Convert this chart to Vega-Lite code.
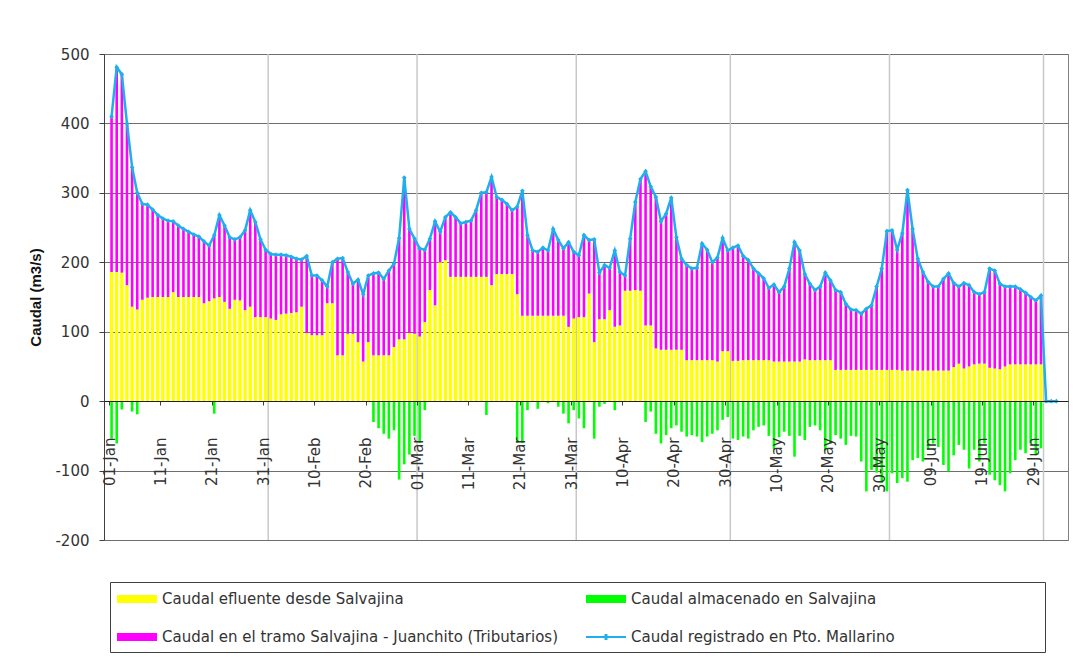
{
"$schema": "https://vega.github.io/schema/vega-lite/v6.json",
"width": 964, "height": 486,
"autosize": {"type": "none"},
"padding": {"left": 104, "top": 54, "right": 18, "bottom": 128},
"background": "white",
"config": {"font": "DejaVu Sans", "view": {"stroke": "#808080", "strokeWidth": 1}},
"datasets": {
"meses": [{"fecha":"2004-02-01T00:00"},{"fecha":"2004-03-01T00:00"},{"fecha":"2004-04-01T00:00"},{"fecha":"2004-05-01T00:00"},{"fecha":"2004-06-01T00:00"},{"fecha":"2004-07-01T00:00"}],
"diario": [
{"fecha":"2004-01-01T12:00","total":410,"efluente":186,"almacenado":-54},
{"fecha":"2004-01-02T12:00","total":481,"efluente":186,"almacenado":-61},
{"fecha":"2004-01-03T12:00","total":471,"efluente":185,"almacenado":-12},
{"fecha":"2004-01-04T12:00","total":400,"efluente":167,"almacenado":0},
{"fecha":"2004-01-05T12:00","total":337,"efluente":136,"almacenado":-15},
{"fecha":"2004-01-06T12:00","total":300,"efluente":132,"almacenado":-19},
{"fecha":"2004-01-07T12:00","total":284,"efluente":146,"almacenado":0},
{"fecha":"2004-01-08T12:00","total":283,"efluente":149,"almacenado":0},
{"fecha":"2004-01-09T12:00","total":276,"efluente":150,"almacenado":0},
{"fecha":"2004-01-10T12:00","total":268,"efluente":150,"almacenado":0},
{"fecha":"2004-01-11T12:00","total":263,"efluente":150,"almacenado":0},
{"fecha":"2004-01-12T12:00","total":260,"efluente":150,"almacenado":0},
{"fecha":"2004-01-13T12:00","total":259,"efluente":157,"almacenado":0},
{"fecha":"2004-01-14T12:00","total":253,"efluente":150,"almacenado":0},
{"fecha":"2004-01-15T12:00","total":248,"efluente":150,"almacenado":0},
{"fecha":"2004-01-16T12:00","total":244,"efluente":150,"almacenado":0},
{"fecha":"2004-01-17T12:00","total":240,"efluente":150,"almacenado":0},
{"fecha":"2004-01-18T12:00","total":237,"efluente":150,"almacenado":0},
{"fecha":"2004-01-19T12:00","total":230,"efluente":141,"almacenado":0},
{"fecha":"2004-01-20T12:00","total":224,"efluente":144,"almacenado":0},
{"fecha":"2004-01-21T12:00","total":239,"efluente":148,"almacenado":-18},
{"fecha":"2004-01-22T12:00","total":268,"efluente":150,"almacenado":0},
{"fecha":"2004-01-23T12:00","total":253,"efluente":143,"almacenado":0},
{"fecha":"2004-01-24T12:00","total":236,"efluente":133,"almacenado":0},
{"fecha":"2004-01-25T12:00","total":233,"efluente":146,"almacenado":0},
{"fecha":"2004-01-26T12:00","total":236,"efluente":145,"almacenado":0},
{"fecha":"2004-01-27T12:00","total":246,"efluente":131,"almacenado":0},
{"fecha":"2004-01-28T12:00","total":275,"efluente":136,"almacenado":0},
{"fecha":"2004-01-29T12:00","total":258,"efluente":121,"almacenado":0},
{"fecha":"2004-01-30T12:00","total":233,"efluente":121,"almacenado":0},
{"fecha":"2004-01-31T12:00","total":218,"efluente":121,"almacenado":0},
{"fecha":"2004-02-01T12:00","total":212,"efluente":119,"almacenado":0},
{"fecha":"2004-02-02T12:00","total":211,"efluente":117,"almacenado":0},
{"fecha":"2004-02-03T12:00","total":211,"efluente":125,"almacenado":0},
{"fecha":"2004-02-04T12:00","total":210,"efluente":126,"almacenado":0},
{"fecha":"2004-02-05T12:00","total":208,"efluente":127,"almacenado":0},
{"fecha":"2004-02-06T12:00","total":205,"efluente":128,"almacenado":0},
{"fecha":"2004-02-07T12:00","total":204,"efluente":136,"almacenado":0},
{"fecha":"2004-02-08T12:00","total":209,"efluente":98,"almacenado":0},
{"fecha":"2004-02-09T12:00","total":181,"efluente":95,"almacenado":0},
{"fecha":"2004-02-10T12:00","total":181,"efluente":95,"almacenado":0},
{"fecha":"2004-02-11T12:00","total":174,"efluente":95,"almacenado":0},
{"fecha":"2004-02-12T12:00","total":165,"efluente":141,"almacenado":0},
{"fecha":"2004-02-13T12:00","total":200,"efluente":141,"almacenado":0},
{"fecha":"2004-02-14T12:00","total":205,"efluente":66,"almacenado":0},
{"fecha":"2004-02-15T12:00","total":206,"efluente":66,"almacenado":0},
{"fecha":"2004-02-16T12:00","total":186,"efluente":97,"almacenado":0},
{"fecha":"2004-02-17T12:00","total":169,"efluente":97,"almacenado":0},
{"fecha":"2004-02-18T12:00","total":175,"efluente":85,"almacenado":0},
{"fecha":"2004-02-19T12:00","total":154,"efluente":57,"almacenado":0},
{"fecha":"2004-02-20T12:00","total":181,"efluente":85,"almacenado":0},
{"fecha":"2004-02-21T12:00","total":184,"efluente":66,"almacenado":-30},
{"fecha":"2004-02-22T12:00","total":185,"efluente":66,"almacenado":-39},
{"fecha":"2004-02-23T12:00","total":176,"efluente":66,"almacenado":-47},
{"fecha":"2004-02-24T12:00","total":188,"efluente":66,"almacenado":-54},
{"fecha":"2004-02-25T12:00","total":198,"efluente":78,"almacenado":-42},
{"fecha":"2004-02-26T12:00","total":235,"efluente":89,"almacenado":-113},
{"fecha":"2004-02-27T12:00","total":322,"efluente":89,"almacenado":-91},
{"fecha":"2004-02-28T12:00","total":248,"efluente":98,"almacenado":-77},
{"fecha":"2004-02-29T12:00","total":234,"efluente":97,"almacenado":-50},
{"fecha":"2004-03-01T12:00","total":220,"efluente":93,"almacenado":-60},
{"fecha":"2004-03-02T12:00","total":218,"efluente":114,"almacenado":-13},
{"fecha":"2004-03-03T12:00","total":234,"efluente":160,"almacenado":0},
{"fecha":"2004-03-04T12:00","total":259,"efluente":138,"almacenado":0},
{"fecha":"2004-03-05T12:00","total":244,"efluente":200,"almacenado":0},
{"fecha":"2004-03-06T12:00","total":265,"efluente":203,"almacenado":0},
{"fecha":"2004-03-07T12:00","total":272,"efluente":179,"almacenado":0},
{"fecha":"2004-03-08T12:00","total":265,"efluente":179,"almacenado":0},
{"fecha":"2004-03-09T12:00","total":256,"efluente":179,"almacenado":0},
{"fecha":"2004-03-10T12:00","total":258,"efluente":179,"almacenado":0},
{"fecha":"2004-03-11T12:00","total":260,"efluente":179,"almacenado":0},
{"fecha":"2004-03-12T12:00","total":275,"efluente":179,"almacenado":0},
{"fecha":"2004-03-13T12:00","total":300,"efluente":179,"almacenado":0},
{"fecha":"2004-03-14T12:00","total":301,"efluente":179,"almacenado":-20},
{"fecha":"2004-03-15T12:00","total":323,"efluente":167,"almacenado":0},
{"fecha":"2004-03-16T12:00","total":294,"efluente":183,"almacenado":0},
{"fecha":"2004-03-17T12:00","total":290,"efluente":183,"almacenado":0},
{"fecha":"2004-03-18T12:00","total":284,"efluente":183,"almacenado":0},
{"fecha":"2004-03-19T12:00","total":275,"efluente":183,"almacenado":0},
{"fecha":"2004-03-20T12:00","total":280,"efluente":154,"almacenado":-60},
{"fecha":"2004-03-21T12:00","total":303,"efluente":123,"almacenado":-60},
{"fecha":"2004-03-22T12:00","total":239,"efluente":123,"almacenado":-13},
{"fecha":"2004-03-23T12:00","total":217,"efluente":123,"almacenado":0},
{"fecha":"2004-03-24T12:00","total":215,"efluente":123,"almacenado":-11},
{"fecha":"2004-03-25T12:00","total":221,"efluente":123,"almacenado":0},
{"fecha":"2004-03-26T12:00","total":217,"efluente":123,"almacenado":-3},
{"fecha":"2004-03-27T12:00","total":248,"efluente":123,"almacenado":0},
{"fecha":"2004-03-28T12:00","total":232,"efluente":123,"almacenado":-8},
{"fecha":"2004-03-29T12:00","total":220,"efluente":123,"almacenado":-18},
{"fecha":"2004-03-30T12:00","total":229,"efluente":107,"almacenado":-32},
{"fecha":"2004-03-31T12:00","total":215,"efluente":119,"almacenado":-13},
{"fecha":"2004-04-01T12:00","total":210,"efluente":121,"almacenado":-25},
{"fecha":"2004-04-02T12:00","total":239,"efluente":121,"almacenado":-39},
{"fecha":"2004-04-03T12:00","total":232,"efluente":155,"almacenado":0},
{"fecha":"2004-04-04T12:00","total":233,"efluente":85,"almacenado":-54},
{"fecha":"2004-04-05T12:00","total":185,"efluente":118,"almacenado":-8},
{"fecha":"2004-04-06T12:00","total":196,"efluente":118,"almacenado":-4},
{"fecha":"2004-04-07T12:00","total":192,"efluente":131,"almacenado":0},
{"fecha":"2004-04-08T12:00","total":217,"efluente":107,"almacenado":-13},
{"fecha":"2004-04-09T12:00","total":186,"efluente":109,"almacenado":0},
{"fecha":"2004-04-10T12:00","total":181,"efluente":159,"almacenado":0},
{"fecha":"2004-04-11T12:00","total":234,"efluente":159,"almacenado":0},
{"fecha":"2004-04-12T12:00","total":287,"efluente":160,"almacenado":0},
{"fecha":"2004-04-13T12:00","total":320,"efluente":159,"almacenado":0},
{"fecha":"2004-04-14T12:00","total":331,"efluente":109,"almacenado":-30},
{"fecha":"2004-04-15T12:00","total":309,"efluente":109,"almacenado":-15},
{"fecha":"2004-04-16T12:00","total":294,"efluente":76,"almacenado":-47},
{"fecha":"2004-04-17T12:00","total":259,"efluente":74,"almacenado":-61},
{"fecha":"2004-04-18T12:00","total":270,"efluente":74,"almacenado":-49},
{"fecha":"2004-04-19T12:00","total":293,"efluente":74,"almacenado":-39},
{"fecha":"2004-04-20T12:00","total":236,"efluente":74,"almacenado":-35},
{"fecha":"2004-04-21T12:00","total":205,"efluente":74,"almacenado":-44},
{"fecha":"2004-04-22T12:00","total":196,"efluente":59,"almacenado":-51},
{"fecha":"2004-04-23T12:00","total":191,"efluente":59,"almacenado":-49},
{"fecha":"2004-04-24T12:00","total":192,"efluente":59,"almacenado":-51},
{"fecha":"2004-04-25T12:00","total":227,"efluente":59,"almacenado":-59},
{"fecha":"2004-04-26T12:00","total":218,"efluente":59,"almacenado":-51},
{"fecha":"2004-04-27T12:00","total":200,"efluente":59,"almacenado":-47},
{"fecha":"2004-04-28T12:00","total":207,"efluente":57,"almacenado":-42},
{"fecha":"2004-04-29T12:00","total":235,"efluente":72,"almacenado":-27},
{"fecha":"2004-04-30T12:00","total":217,"efluente":72,"almacenado":-23},
{"fecha":"2004-05-01T12:00","total":221,"efluente":58,"almacenado":-54},
{"fecha":"2004-05-02T12:00","total":224,"efluente":58,"almacenado":-56},
{"fecha":"2004-05-03T12:00","total":209,"efluente":59,"almacenado":-51},
{"fecha":"2004-05-04T12:00","total":203,"efluente":59,"almacenado":-54},
{"fecha":"2004-05-05T12:00","total":191,"efluente":59,"almacenado":-42},
{"fecha":"2004-05-06T12:00","total":184,"efluente":59,"almacenado":-37},
{"fecha":"2004-05-07T12:00","total":177,"efluente":59,"almacenado":-35},
{"fecha":"2004-05-08T12:00","total":163,"efluente":59,"almacenado":-50},
{"fecha":"2004-05-09T12:00","total":168,"efluente":57,"almacenado":-69},
{"fecha":"2004-05-10T12:00","total":157,"efluente":57,"almacenado":-52},
{"fecha":"2004-05-11T12:00","total":165,"efluente":57,"almacenado":-44},
{"fecha":"2004-05-12T12:00","total":191,"efluente":57,"almacenado":-50},
{"fecha":"2004-05-13T12:00","total":229,"efluente":57,"almacenado":-80},
{"fecha":"2004-05-14T12:00","total":217,"efluente":57,"almacenado":-50},
{"fecha":"2004-05-15T12:00","total":183,"efluente":60,"almacenado":-56},
{"fecha":"2004-05-16T12:00","total":169,"efluente":59,"almacenado":-37},
{"fecha":"2004-05-17T12:00","total":160,"efluente":59,"almacenado":-35},
{"fecha":"2004-05-18T12:00","total":165,"efluente":59,"almacenado":-42},
{"fecha":"2004-05-19T12:00","total":185,"efluente":59,"almacenado":-71},
{"fecha":"2004-05-20T12:00","total":174,"efluente":59,"almacenado":-61},
{"fecha":"2004-05-21T12:00","total":160,"efluente":45,"almacenado":-49},
{"fecha":"2004-05-22T12:00","total":157,"efluente":45,"almacenado":-54},
{"fecha":"2004-05-23T12:00","total":140,"efluente":45,"almacenado":-63},
{"fecha":"2004-05-24T12:00","total":132,"efluente":45,"almacenado":-50},
{"fecha":"2004-05-25T12:00","total":131,"efluente":45,"almacenado":-51},
{"fecha":"2004-05-26T12:00","total":126,"efluente":45,"almacenado":-87},
{"fecha":"2004-05-27T12:00","total":133,"efluente":45,"almacenado":-130},
{"fecha":"2004-05-28T12:00","total":138,"efluente":45,"almacenado":-99},
{"fecha":"2004-05-29T12:00","total":165,"efluente":45,"almacenado":-103},
{"fecha":"2004-05-30T12:00","total":191,"efluente":45,"almacenado":-118},
{"fecha":"2004-05-31T12:00","total":245,"efluente":45,"almacenado":-130},
{"fecha":"2004-06-01T12:00","total":246,"efluente":45,"almacenado":-104},
{"fecha":"2004-06-02T12:00","total":218,"efluente":45,"almacenado":-118},
{"fecha":"2004-06-03T12:00","total":242,"efluente":44,"almacenado":-111},
{"fecha":"2004-06-04T12:00","total":304,"efluente":44,"almacenado":-116},
{"fecha":"2004-06-05T12:00","total":248,"efluente":44,"almacenado":-85},
{"fecha":"2004-06-06T12:00","total":205,"efluente":44,"almacenado":-82},
{"fecha":"2004-06-07T12:00","total":186,"efluente":44,"almacenado":-87},
{"fecha":"2004-06-08T12:00","total":172,"efluente":44,"almacenado":-70},
{"fecha":"2004-06-09T12:00","total":165,"efluente":44,"almacenado":-61},
{"fecha":"2004-06-10T12:00","total":165,"efluente":44,"almacenado":-66},
{"fecha":"2004-06-11T12:00","total":176,"efluente":44,"almacenado":-92},
{"fecha":"2004-06-12T12:00","total":184,"efluente":44,"almacenado":-101},
{"fecha":"2004-06-13T12:00","total":170,"efluente":49,"almacenado":-78},
{"fecha":"2004-06-14T12:00","total":165,"efluente":54,"almacenado":-63},
{"fecha":"2004-06-15T12:00","total":170,"efluente":47,"almacenado":-70},
{"fecha":"2004-06-16T12:00","total":167,"efluente":50,"almacenado":-97},
{"fecha":"2004-06-17T12:00","total":157,"efluente":53,"almacenado":-70},
{"fecha":"2004-06-18T12:00","total":154,"efluente":54,"almacenado":-87},
{"fecha":"2004-06-19T12:00","total":157,"efluente":54,"almacenado":-61},
{"fecha":"2004-06-20T12:00","total":191,"efluente":48,"almacenado":-106},
{"fecha":"2004-06-21T12:00","total":188,"efluente":47,"almacenado":-114},
{"fecha":"2004-06-22T12:00","total":169,"efluente":46,"almacenado":-121},
{"fecha":"2004-06-23T12:00","total":165,"efluente":50,"almacenado":-130},
{"fecha":"2004-06-24T12:00","total":165,"efluente":53,"almacenado":-104},
{"fecha":"2004-06-25T12:00","total":165,"efluente":53,"almacenado":-85},
{"fecha":"2004-06-26T12:00","total":161,"efluente":53,"almacenado":-70},
{"fecha":"2004-06-27T12:00","total":156,"efluente":53,"almacenado":-75},
{"fecha":"2004-06-28T12:00","total":150,"efluente":53,"almacenado":-61},
{"fecha":"2004-06-29T12:00","total":145,"efluente":53,"almacenado":-78},
{"fecha":"2004-06-30T12:00","total":152,"efluente":53,"almacenado":-68},
{"fecha":"2004-07-01T12:00","total":0,"efluente":null,"almacenado":null},
{"fecha":"2004-07-02T12:00","total":0,"efluente":null,"almacenado":null},
{"fecha":"2004-07-03T12:00","total":0,"efluente":null,"almacenado":null}
]
},
"data": {"name": "diario"},
"encoding": {
  "x": {"field": "fecha", "type": "temporal",
    "scale": {"domain": [{"year": 2004, "month": 1, "date": 1}, {"year": 2004, "month": 7, "date": 4, "hours": 19}]},
    "axis": {"orient": "bottom", "offset": -139, "title": null, "grid": false, "format": "%d-%b", "formatType": "time",
      "values": [{"year":2004,"month":1,"date":1},{"year":2004,"month":1,"date":11},{"year":2004,"month":1,"date":21},{"year":2004,"month":1,"date":31},{"year":2004,"month":2,"date":10},{"year":2004,"month":2,"date":20},{"year":2004,"month":3,"date":1},{"year":2004,"month":3,"date":11},{"year":2004,"month":3,"date":21},{"year":2004,"month":3,"date":31},{"year":2004,"month":4,"date":10},{"year":2004,"month":4,"date":20},{"year":2004,"month":4,"date":30},{"year":2004,"month":5,"date":10},{"year":2004,"month":5,"date":20},{"year":2004,"month":5,"date":30},{"year":2004,"month":6,"date":9},{"year":2004,"month":6,"date":19},{"year":2004,"month":6,"date":29}],
      "labelAngle": 270, "labelPadding": 32, "tickSize": 4, "domainColor": "#202020", "domainWidth": 1.2, "tickColor": "#404040",
      "labelFontSize": 15, "labelColor": "#333333", "labelOverlap": false, "labelFlush": false, "zindex": 1}}
},
"layer": [
  {"data": {"name": "meses"}, "mark": {"type": "rule", "color": "#c8c8c8", "strokeWidth": 1.5}, "encoding": {}},
  {"transform": [{"filter": "datum.efluente != null"}],
   "mark": {"type": "bar", "orient": "vertical", "size": 3.4},
   "encoding": {
     "y": {"field": "efluente", "type": "quantitative", "stack": null,
       "scale": {"domain": [-200, 500], "nice": false, "zero": false},
       "axis": {"title": "Caudal (m3/s)", "values": [-200, -100, 0, 100, 200, 300, 400, 500], "labelExpr": "'' + datum.value", "grid": true, "gridColor": "#6e6e6e", "gridWidth": 1,
         "domainColor": "#404040", "tickColor": "#404040", "tickSize": 5, "labelPadding": 10, "labelFontSize": 15, "labelColor": "#333333",
         "titleFont": "Liberation Sans", "titleFontSize": 15, "titleFontWeight": "bold", "titleColor": "#111111", "titlePadding": 11}},
     "color": {"datum": "Caudal efluente desde Salvajina", "type": "nominal",
       "scale": {"domain": ["Caudal efluente desde Salvajina", "Caudal en  el tramo Salvajina - Juanchito (Tributarios)", "Caudal almacenado en Salvajina", "Caudal registrado en Pto. Mallarino"],
                 "range": ["#FFFF00", "#FF00FF", "#00FF00", "#1FB0EC"]},
       "legend": {"orient": "none", "legendX": 6, "legendY": 528, "columns": 2, "title": null,
         "symbolType": "M-1,-0.4H3V0.4H-1Z", "symbolSize": 400, "symbolStrokeWidth": 0, "labelOffset": 25,
         "labelFontSize": 15, "labelColor": "#333333", "rowPadding": 20, "columnPadding": 23, "padding": 7,
         "strokeColor": "#404040", "fillColor": "white", "labelLimit": 0,
         "labelExpr": "datum.label === 'Caudal registrado en Pto. Mallarino' ? datum.label + '\u2800\u2800\u2800\u2800\u2800\u2800\u2800\u2800\u2800\u2800\u2800\u2800\u2800' : datum.label",
         "encode": {"symbols": {"update": {"shape": {"signal": "datum.value === 'Caudal registrado en Pto. Mallarino' ? 'M-1,-0.1H3V0.1H-1ZM0.85,-0.3H1.15V0.3H0.85Z' : 'M-1,-0.4H3V0.4H-1Z'"}}}}}}
   }},
  {"transform": [{"filter": "datum.efluente != null"}],
   "mark": {"type": "bar", "orient": "vertical", "size": 2.6},
   "encoding": {
     "y": {"field": "total", "type": "quantitative", "stack": null, "scale": {"domain": [-200, 500], "nice": false, "zero": false},
       "axis": {"title": "Caudal (m3/s)", "values": [-200, -100, 0, 100, 200, 300, 400, 500], "labelExpr": "'' + datum.value", "grid": true, "gridColor": "#6e6e6e", "gridWidth": 1,
         "domainColor": "#404040", "tickColor": "#404040", "tickSize": 5, "labelPadding": 10, "labelFontSize": 15, "labelColor": "#333333",
         "titleFont": "Liberation Sans", "titleFontSize": 15, "titleFontWeight": "bold", "titleColor": "#111111", "titlePadding": 11}},
     "y2": {"field": "efluente"},
     "color": {"datum": "Caudal en  el tramo Salvajina - Juanchito (Tributarios)", "type": "nominal"}
   }},
  {"transform": [{"filter": "datum.efluente != null"}],
   "mark": {"type": "bar", "orient": "vertical", "size": 2.6},
   "encoding": {
     "y": {"field": "almacenado", "type": "quantitative", "stack": null, "scale": {"domain": [-200, 500], "nice": false, "zero": false},
       "axis": {"title": "Caudal (m3/s)", "values": [-200, -100, 0, 100, 200, 300, 400, 500], "labelExpr": "'' + datum.value", "grid": true, "gridColor": "#6e6e6e", "gridWidth": 1,
         "domainColor": "#404040", "tickColor": "#404040", "tickSize": 5, "labelPadding": 10, "labelFontSize": 15, "labelColor": "#333333",
         "titleFont": "Liberation Sans", "titleFontSize": 15, "titleFontWeight": "bold", "titleColor": "#111111", "titlePadding": 11}},
     "color": {"datum": "Caudal almacenado en Salvajina", "type": "nominal"}
   }},
  {"mark": {"type": "line", "strokeWidth": 2.5},
   "encoding": {
     "y": {"field": "total", "type": "quantitative", "scale": {"domain": [-200, 500], "nice": false, "zero": false},
       "axis": {"title": "Caudal (m3/s)", "values": [-200, -100, 0, 100, 200, 300, 400, 500], "labelExpr": "'' + datum.value", "grid": true, "gridColor": "#6e6e6e", "gridWidth": 1,
         "domainColor": "#404040", "tickColor": "#404040", "tickSize": 5, "labelPadding": 10, "labelFontSize": 15, "labelColor": "#333333",
         "titleFont": "Liberation Sans", "titleFontSize": 15, "titleFontWeight": "bold", "titleColor": "#111111", "titlePadding": 11}},
     "color": {"datum": "Caudal registrado en Pto. Mallarino", "type": "nominal", "legend": null}
   }},
  {"mark": {"type": "point", "shape": "diamond", "filled": true, "size": 22, "opacity": 1},
   "encoding": {
     "y": {"field": "total", "type": "quantitative", "scale": {"domain": [-200, 500], "nice": false, "zero": false},
       "axis": {"title": "Caudal (m3/s)", "values": [-200, -100, 0, 100, 200, 300, 400, 500], "labelExpr": "'' + datum.value", "grid": true, "gridColor": "#6e6e6e", "gridWidth": 1,
         "domainColor": "#404040", "tickColor": "#404040", "tickSize": 5, "labelPadding": 10, "labelFontSize": 15, "labelColor": "#333333",
         "titleFont": "Liberation Sans", "titleFontSize": 15, "titleFontWeight": "bold", "titleColor": "#111111", "titlePadding": 11}},
     "color": {"datum": "Caudal registrado en Pto. Mallarino", "type": "nominal", "legend": null}
   }}
]
}
